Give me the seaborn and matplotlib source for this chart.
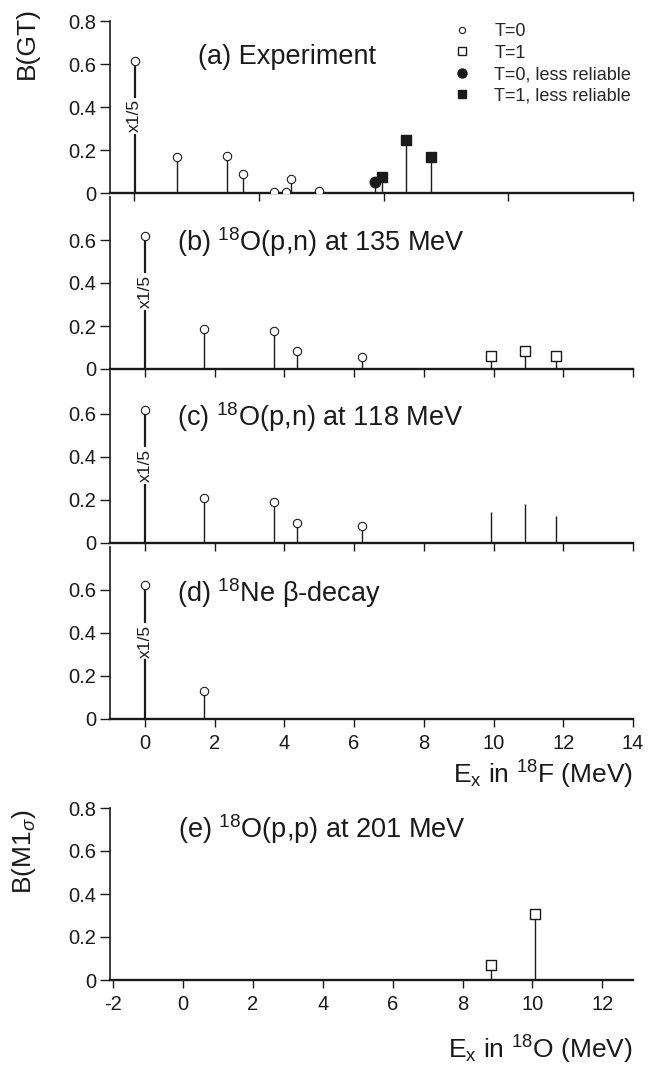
import numpy as np
import pandas as pd
import seaborn as sns
import matplotlib.pyplot as plt
from matplotlib.lines import Line2D

# (a) Experiment
a_t0_x = [-0.29, 0.91, 2.36, 2.82, 3.70, 4.06, 4.18, 4.99]
a_t0_y = [0.617, 0.169, 0.172, 0.090, 0.007, 0.007, 0.066, 0.011]
a_t0_less_x = [6.60]
a_t0_less_y = [0.052]
a_t1_less_x = [6.80, 7.48, 8.22]
a_t1_less_y = [0.077, 0.248, 0.170]
a_ticks = [-0.3, 3.275, 6.85, 10.425, 14.0]

# (b) 18O(p,n) at 135 MeV
b_t0_x = [0.0, 1.69, 3.71, 4.35, 6.24]
b_t0_y = [0.617, 0.186, 0.177, 0.084, 0.057]
b_t1_x = [9.92, 10.90, 11.78]
b_t1_y = [0.059, 0.085, 0.062]

# (c) 18O(p,n) at 118 MeV
c_t0_x = [0.0, 1.69, 3.71, 4.35, 6.24]
c_t0_y = [0.617, 0.209, 0.187, 0.090, 0.079]
c_t1_x = [9.92, 10.90, 11.78]
c_t1_y = [0.142, 0.182, 0.124]

# (d) 18Ne beta-decay
d_t0_x = [0.0, 1.69]
d_t0_y = [0.620, 0.130]

# (e) 18O(p,p) at 201 MeV
e_t1_x = [8.82, 10.07]
e_t1_y = [0.070, 0.307]

y_ticks = [0, 0.2, 0.4, 0.6, 0.8]
y_labels = ['0', '0.2', '0.4', '0.6', '0.8']
f_ticks = [0, 2, 4, 6, 8, 10, 12, 14]
o_ticks = [-2, 0, 2, 4, 6, 8, 10, 12]

sns.set_style('ticks')
plt.rcParams['font.family'] = ['Liberation Sans', 'DejaVu Sans']
plt.rcParams['mathtext.fontset'] = 'custom'
plt.rcParams['mathtext.rm'] = 'Liberation Sans'
plt.rcParams['mathtext.it'] = 'Liberation Sans:italic'
plt.rcParams['mathtext.sf'] = 'Liberation Sans'

INK = '#1a1a1a'
W, H = 669, 1066
fig = plt.figure(figsize=(W / 100, H / 100), dpi=100)


def make_ax(bottom_px, xlim):
    ax = fig.add_axes([110 / W, 1 - bottom_px / H, 523 / W, 172 / H])
    ax.patch.set_alpha(0)
    ax.set_xlim(*xlim)
    ax.set_ylim(0, 0.8)
    sns.despine(ax=ax)
    ax.spines['bottom'].set_linewidth(1.7)
    ax.spines['left'].set_linewidth(1.2)
    for s in ['bottom', 'left']:
        ax.spines[s].set_color(INK)
    ax.tick_params(axis='y', direction='out', length=7, width=1, labelsize=14.5, pad=3, colors=INK)
    ax.tick_params(axis='x', direction='out', length=6, width=1, labelsize=14.5, pad=5, colors=INK)
    return ax


def stems(ax, x, y, first_thick=True):
    lw = [1.6 if (first_thick and i == 0) else 1.0 for i in range(len(x))]
    ax.vlines(x, 0, y, color=INK, lw=lw, zorder=2)


def circles(ax, x, y, filled=False, s=36):
    sns.scatterplot(x=x, y=y, marker='o', s=s, ax=ax, zorder=3, legend=False,
                    facecolor=INK if filled else 'white', edgecolor=INK, linewidth=0.8)


def squares(ax, x, y, filled=False, s=44):
    sns.scatterplot(x=x, y=y, marker='s', s=s, ax=ax, zorder=3, legend=False,
                    facecolor=INK if filled else 'white', edgecolor=INK, linewidth=1.0)


def scale_note(ax, x):
    ax.text(x, 0.36, 'x1/5', rotation=90, ha='center', va='center', fontsize=12.5, color=INK,
            bbox=dict(facecolor='white', edgecolor='none', pad=1.2), zorder=2.5)


TITLE = 19.5

# ---- (a)
ax = make_ax(193.3, (-1, 14))
stems(ax, a_t0_x, a_t0_y)
stems(ax, a_t0_less_x, a_t0_less_y, False)
stems(ax, a_t1_less_x, a_t1_less_y, False)
circles(ax, a_t0_x, a_t0_y)
circles(ax, a_t0_less_x, a_t0_less_y, filled=True, s=60)
squares(ax, a_t1_less_x, a_t1_less_y, filled=True, s=60)
scale_note(ax, a_t0_x[0])
ax.set_xticks(a_ticks)
ax.tick_params(labelbottom=False)
ax.set_yticks(y_ticks, y_labels)
ax.text(1.52, 0.635, '(a) Experiment', fontsize=TITLE, va='center', color=INK)
handles = [
    Line2D([], [], ls='none', marker='o', ms=4.5, mfc='white', mec=INK, mew=0.8),
    Line2D([], [], ls='none', marker='s', ms=5.5, mfc='white', mec=INK, mew=1.0),
    Line2D([], [], ls='none', marker='o', ms=6.5, mfc=INK, mec=INK),
    Line2D([], [], ls='none', marker='s', ms=6.0, mfc=INK, mec=INK),
]
labels = ['T=0', 'T=1', 'T=0, less reliable', 'T=1, less reliable']
ax.legend(handles, labels, loc='upper left', bbox_to_anchor=(453 / W, 1 - 23 / H),
          bbox_transform=fig.transFigure, frameon=False, fontsize=13, handlelength=1.0,
          handletextpad=1.28, labelspacing=0.25, borderpad=0, borderaxespad=0)
fig.text(27 / W, 1 - 7 / H, 'B(GT)', rotation=90, ha='center', va='top', fontsize=19, color=INK)

# ---- (b)
ax = make_ax(369, (-1, 14))
stems(ax, b_t0_x, b_t0_y)
stems(ax, b_t1_x, b_t1_y, False)
circles(ax, b_t0_x, b_t0_y)
squares(ax, b_t1_x, b_t1_y)
scale_note(ax, b_t0_x[0])
ax.set_xticks(f_ticks)
ax.tick_params(labelbottom=False)
ax.set_yticks(y_ticks[:4], y_labels[:4])
ax.text(0.92, 0.59, r'(b) $^{\mathrm{18}}$O(p,n) at 135 MeV', fontsize=TITLE, va='center', color=INK)

# ---- (c)
ax = make_ax(542.7, (-1, 14))
stems(ax, c_t0_x, c_t0_y)
stems(ax, c_t1_x, c_t1_y, False)
circles(ax, c_t0_x, c_t0_y)
scale_note(ax, c_t0_x[0])
ax.set_xticks(f_ticks)
ax.tick_params(labelbottom=False)
ax.set_yticks(y_ticks[:4], y_labels[:4])
ax.text(0.92, 0.585, r'(c) $^{\mathrm{18}}$O(p,n) at 118 MeV', fontsize=TITLE, va='center', color=INK)

# ---- (d)
ax = make_ax(718.5, (-1, 14))
stems(ax, d_t0_x, d_t0_y)
circles(ax, d_t0_x, d_t0_y)
scale_note(ax, d_t0_x[0])
ax.set_xticks(f_ticks, [str(t) for t in f_ticks])
ax.set_yticks(y_ticks[:4], y_labels[:4])
ax.text(0.92, 0.584, r'(d) $^{\mathrm{18}}$Ne β-decay', fontsize=TITLE, va='center', color=INK)
ax.set_xlabel(r'E$_{\mathrm{x}}$ in $^{\mathrm{18}}$F (MeV)', loc='right', fontsize=19, labelpad=4, color=INK)

# ---- (e)
ax = make_ax(980, (-2.09, 12.88))
stems(ax, e_t1_x, e_t1_y, False)
squares(ax, e_t1_x, e_t1_y)
ax.set_xticks(o_ticks, [str(t) for t in o_ticks])
ax.set_yticks(y_ticks, y_labels)
ax.text(-0.14, 0.70, r'(e) $^{\mathrm{18}}$O(p,p) at 201 MeV', fontsize=TITLE, va='center', color=INK)
ax.set_xlabel(r'E$_{\mathrm{x}}$ in $^{\mathrm{18}}$O (MeV)', loc='right', fontsize=19, labelpad=14, color=INK)
fig.text(24 / W, 1 - 810 / H, r'B(M1$_{\sigma}$)', rotation=90, ha='center', va='top', fontsize=19, color=INK)

fig.savefig('out.png', dpi=100)
